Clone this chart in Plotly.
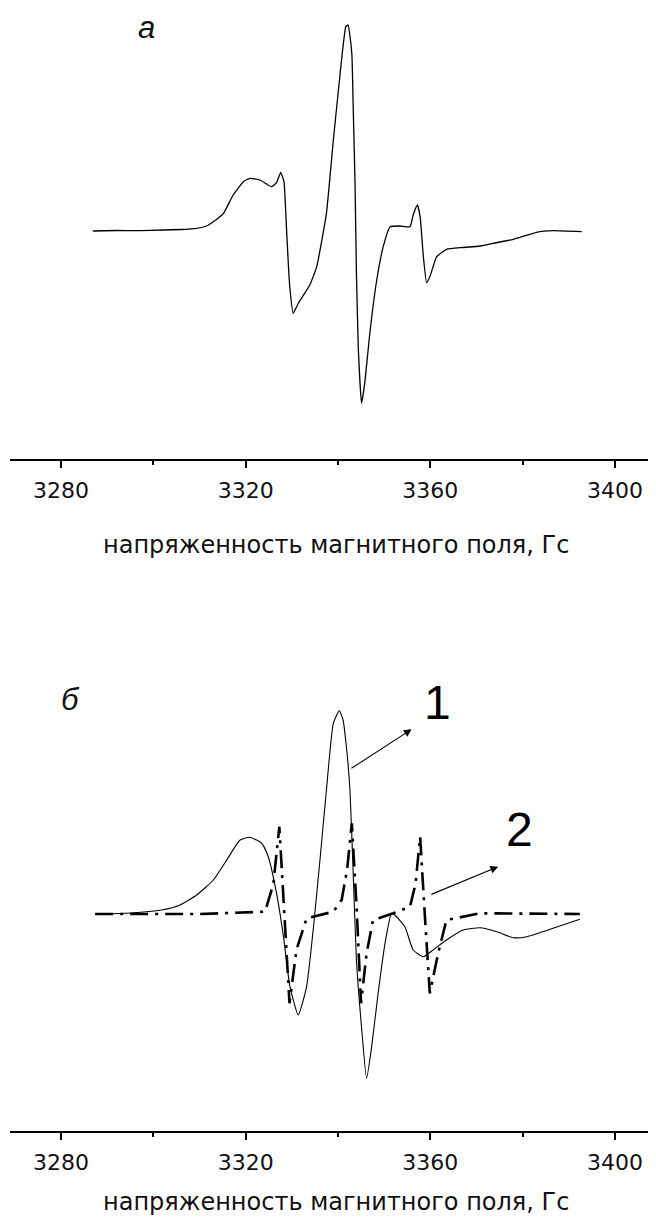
import plotly.graph_objects as go

# ---- panel a (experimental spectrum) ----
field_a = [3286.9, 3292.0, 3297.0, 3302.0, 3306.0, 3309.4, 3311.5, 3313.0, 3315.2, 3317.3, 3319.5,
           3320.9, 3323.1, 3325.6, 3326.7, 3327.6, 3328.3, 3328.9, 3329.5, 3330.3, 3331.4,
           3333.9, 3335.4, 3337.5, 3339.0, 3340.4, 3341.7, 3342.2, 3343.0, 3343.3, 3343.7,
           3344.0, 3344.4, 3345.1, 3345.8, 3346.9, 3348.4, 3349.8, 3351.3, 3353.4, 3355.6,
           3356.3, 3357.2, 3357.8, 3358.5, 3359.2, 3359.9, 3361.4, 3363.5, 3367.0, 3370.8,
           3374.0, 3378.0, 3383.0, 3386.6, 3392.8]
signal_a = [0.0, 0.5, 0.3, 1.0, 1.5, 2.7, 5.0, 9.3, 17.7, 36.0, 49.3,
            52.7, 51.0, 44.3, 48.3, 58.7, 49.3, -2.3, -52.3, -82.3, -72.3,
            -54.0, -35.7, 17.7, 91.0, 154.3, 204.3, 206.0, 177.7, 124.3, 47.7,
            -42.3, -115.7, -172.3, -152.3, -102.3, -49.0, -15.7, 4.3, 5.0, 4.3,
            16.0, 26.0, 14.3, -25.7, -51.7, -45.7, -25.7, -18.3, -16.5, -15.0,
            -12.0, -8.3, -1.3, 0.3, -0.7]

# ---- panel b: curve 1 (solid) ----
field_b1 = [3287.4, 3295.0, 3301.8, 3305.8, 3309.4, 3313.0, 3315.9, 3318.8, 3320.9, 3323.5,
            3324.9, 3326.7, 3328.2, 3329.6, 3331.4, 3333.2, 3334.7, 3336.1, 3337.5, 3339.0,
            3340.3, 3341.1, 3341.9, 3342.6, 3343.3, 3344.0, 3345.1, 3346.2, 3347.3, 3348.7,
            3350.2, 3351.6, 3352.3, 3354.5, 3356.3, 3358.5, 3360.6, 3363.5, 3367.1, 3370.8,
            3374.4, 3378.0, 3380.9, 3386.6, 3392.4]
signal_b1 = [0.0, 1.0, 4.0, 9.0, 19.0, 34.0, 54.0, 74.0, 76.7, 70.7,
             57.3, 20.7, -22.7, -72.7, -101.0, -72.7, -12.7, 54.0, 124.0, 190.7,
             203.3, 194.0, 164.0, 124.0, 40.7, -46.0, -112.7, -164.3, -132.7, -79.3,
             -29.3, 0.7, -1.0, -12.7, -36.0, -42.7, -36.0, -26.0, -16.0, -13.7,
             -17.7, -23.7, -22.7, -14.3, -5.3]

# ---- panel b: curve 2 (dash-dot) ----
field_b2 = [3287.4, 3310.0, 3324.2, 3326.0, 3327.3, 3328.2, 3329.5, 3331.0, 3333.2, 3339.0,
            3340.8, 3342.0, 3343.0, 3344.0, 3345.0, 3346.2, 3347.6, 3352.0, 3355.6, 3356.8,
            3357.8, 3358.8, 3359.9, 3361.7, 3363.5, 3370.8, 3392.4]
signal_b2 = [0.0, 0.0, 2.3, 30.0, 87.3, 20.0, -89.3, -36.0, -4.3, 2.3,
             14.0, 45.0, 90.7, 10.0, -89.3, -39.3, -6.0, 0.7, 7.3, 30.0,
             77.3, 0.0, -79.3, -39.3, -6.0, 0.7, 0.0]

tick_vals = [3280, 3320, 3360, 3400]
tick_text = ["3280", "3320", "3360", "3400"]
minor_vals = [3300, 3340, 3380]
x_title = "напряженность магнитного поля, Гс"
panel_labels = ["а", "б"]
curve_labels = ["1", "2"]

# page body has an 8px default margin; compensate
OFF = 8
W, H = 656 - OFF, 1218 - OFF
L = 10 - OFF
PW = W - L

def px_x(px):
    return (px - OFF - L) / PW

def px_y(py):
    return 1 - (py - OFF) / H

x_range = [3268.95, 3408.9]

fig = go.Figure()
fig.add_trace(go.Scatter(x=field_a, y=signal_a, mode="lines",
                         line=dict(color="black", width=1.3, shape="spline", smoothing=0.4),
                         xaxis="x", yaxis="y", showlegend=False))
fig.add_trace(go.Scatter(x=field_b1, y=signal_b1, mode="lines",
                         line=dict(color="black", width=1.1, shape="spline", smoothing=0.5),
                         xaxis="x2", yaxis="y2", showlegend=False))
fig.add_trace(go.Scatter(x=field_b2, y=signal_b2, mode="lines",
                         line=dict(color="black", width=2.6, dash="18px,7px,3px,7px"),
                         xaxis="x2", yaxis="y2", showlegend=False))

xa = dict(range=x_range, showline=True, linecolor="black", linewidth=1.5,
          ticks="outside", ticklen=7, tickwidth=1.5, tickcolor="black",
          tickvals=tick_vals, ticktext=tick_text,
          tickfont=dict(family="DejaVu Sans", size=22, color="#111"),
          ticklabelstandoff=4,
          minor=dict(ticks="outside", ticklen=4, tickwidth=1.5, tickcolor="black",
                     tickvals=minor_vals),
          showgrid=False, zeroline=False, fixedrange=True)

fig.update_layout(
    width=W, height=H,
    margin=dict(l=L, r=0, t=0, b=0),
    paper_bgcolor="white", plot_bgcolor="white",
    xaxis=dict(**xa, anchor="y"),
    yaxis=dict(domain=[px_y(459.3), 1.0], range=[-228.3, 231 - OFF], visible=False),
    xaxis2=dict(**xa, anchor="y2"),
    yaxis2=dict(domain=[px_y(1131), px_y(640)], range=[-217, 274], visible=False),
)

ann = []
tf = dict(family="DejaVu Sans", size=24, color="#111")
ann.append(dict(text=x_title, x=px_x(336), y=px_y(545), xref="paper", yref="paper",
                showarrow=False, xanchor="center", yanchor="middle", font=tf))
ann.append(dict(text=x_title, x=px_x(336), y=px_y(1202), xref="paper", yref="paper",
                showarrow=False, xanchor="center", yanchor="middle", font=tf))
lf = dict(family="Liberation Sans", size=31, color="#111", style="italic")
ann.append(dict(text=panel_labels[0], x=px_x(146.5), y=1.0, xref="paper", yref="paper",
                showarrow=False, xanchor="center", yanchor="top", font=lf))
ann.append(dict(text=panel_labels[1], x=px_x(71), y=px_y(699), xref="paper", yref="paper",
                showarrow=False, xanchor="center", yanchor="middle", font=lf))
cf = dict(family="Liberation Sans", size=48, color="black")
ann.append(dict(text=curve_labels[0], x=px_x(437.5), y=px_y(702.5), xref="paper", yref="paper",
                showarrow=False, xanchor="center", yanchor="middle", font=cf))
ann.append(dict(text=curve_labels[1], x=px_x(519), y=px_y(829), xref="paper", yref="paper",
                showarrow=False, xanchor="center", yanchor="middle", font=cf))
ann.append(dict(text="", x=3355.96, y=184.7, ax=3342.6, ay=144.7,
                xref="x2", yref="y2", axref="x2", ayref="y2",
                showarrow=True, arrowhead=2, arrowsize=1.4, arrowwidth=1.1,
                arrowcolor="black", standoff=0, startstandoff=0))
ann.append(dict(text="", x=3374.7, y=47.3, ax=3359.9, ay=19.0,
                xref="x2", yref="y2", axref="x2", ayref="y2",
                showarrow=True, arrowhead=2, arrowsize=1.4, arrowwidth=1.1,
                arrowcolor="black", standoff=0, startstandoff=0))
fig.update_layout(annotations=ann)

fig.write_html("out.html")
